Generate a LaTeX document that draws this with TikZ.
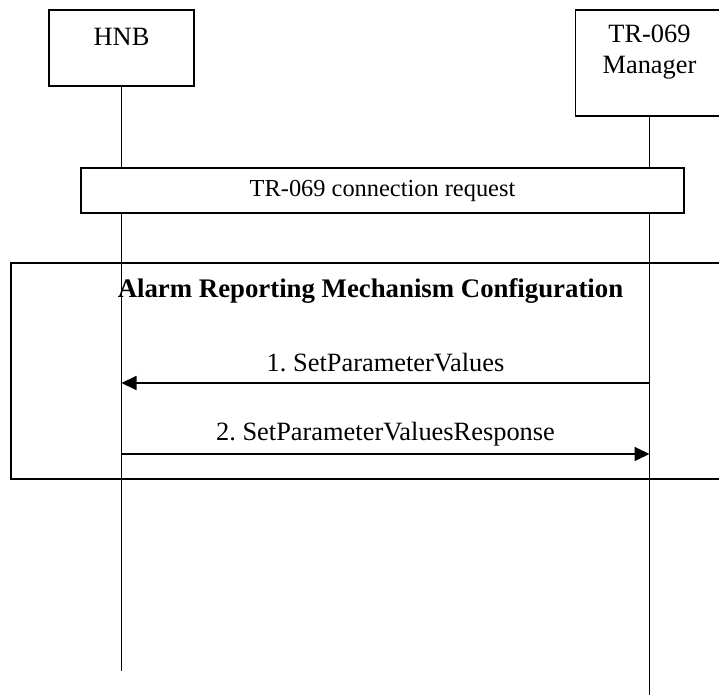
\documentclass[tikz,border=0pt]{standalone}
\usepackage{fontspec}
\setmainfont{Liberation Serif}
\usepackage{tikz}
\usetikzlibrary{arrows.meta}
\frenchspacing

\begin{document}
\begin{tikzpicture}[x=0.5pt, y=-0.5pt, line width=0.9pt,
    font=\fontsize{13.2}{15.5}\selectfont,
    >={Triangle[length=7.5pt, width=7pt]},
    entity/.style={draw, rectangle, minimum width=72.5pt, inner sep=0pt},
    lifeline/.style={draw},
    msg/.style={->}]
    \useasboundingbox (0, 0) rectangle (719, 695);
    \node [entity, minimum height=38pt] (hnb) at (121.5, 48) {};
    \node [yshift=5.5pt] (hnbtxt) at (hnb) {HNB};
    \node [entity, minimum width=74pt, minimum height=53pt] (mgr) at (649.5, 63) {};
    \node [yshift=5.3pt, align=center] (mgrtxt) at (mgr) {TR-069\\Manager};
    \coordinate (hnbend) at (121.5, 671);
    \coordinate (mgrend) at (649.5, 697);
    \draw [lifeline] (hnb.south) -- (hnbend);
    \draw [lifeline] (mgr.south) -- (mgrend);
    \node [draw, fill=white, minimum width=301.5pt, minimum height=22.5pt, font=\fontsize{12.2}{14}\selectfont] (conn) at (382.5, 190.5) {TR-069 connection request};
    \draw (11, 263) rectangle (724, 479);
    \node [font=\fontsize{13.4}{15.5}\selectfont\bfseries] (title) at (370.5, 291) {Alarm Reporting Mechanism Configuration};
    \coordinate (m1s) at (649.5, 383);
    \coordinate (m1e) at (121.5, 383);
    \coordinate (m2s) at (121.5, 454);
    \coordinate (m2e) at (649.5, 454);
    \draw [msg] (m1s) -- node [above, yshift=2pt] (m1) {1. SetParameterValues} (m1e);
    \draw [msg] (m2s) -- node [above] (m2) {2. SetParameterValuesResponse} (m2e);
\end{tikzpicture}
\end{document}
